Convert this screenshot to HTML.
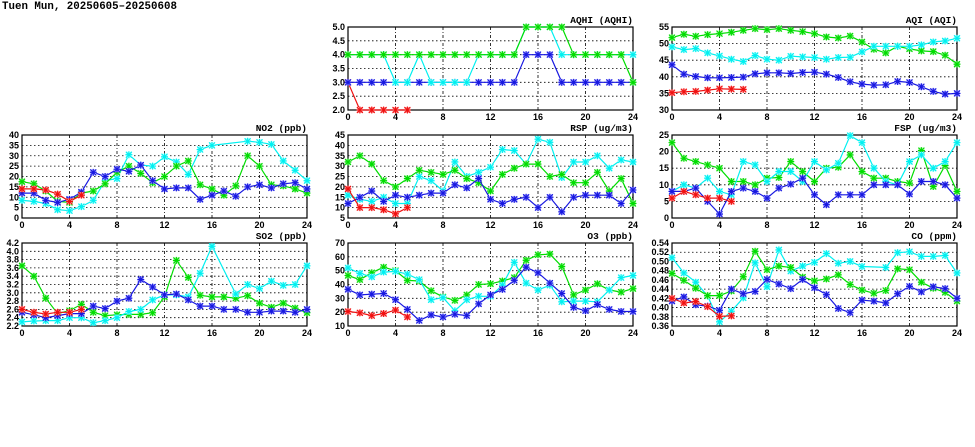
<!DOCTYPE html>
<html><head><meta charset="utf-8"><style>
html,body{margin:0;padding:0;background:#fff;width:975px;height:447px;overflow:hidden}
svg{display:block}
text{font-family:"Liberation Sans",sans-serif;font-weight:bold;font-size:9px;fill:#000}
.ttl{font-family:"Liberation Mono",monospace;font-size:9.5px}
</style></head><body>
<svg id="chart" width="975" height="447" xmlns="http://www.w3.org/2000/svg">
<text class="ttl" x="2" y="9" style="font-weight:600;font-size:10.8px">Tuen Mun, 20250605&#8211;20250608</text>
</svg>
<script>
const hours = [0,1,2,3,4,5,6,7,8,9,10,11,12,13,14,15,16,17,18,19,20,21,22,23,24];
const xTicks = [0,4,8,12,16,20,24];
const N = null;

const aqhiRed = [3,2,2,2,2,2];
const aqhiBlue = [3,3,3,3,3,3,3,3,3,3,3,3,3,3,3,4,4,4,3,3,3,3,3,3,3];
const aqhiCyan = [4,4,4,4,3,3,4,3,3,3,3,4,4,4,4,5,5,5,4,4,4,4,4,4,4];
const aqhiGreen = [4,4,4,4,4,4,4,4,4,4,4,4,4,4,4,5,5,5,5,4,4,4,4,4,3];
const aqhiTicks = [2.0,2.5,3.0,3.5,4.0,4.5,5.0];

const aqiGreen = [51.8,52.8,52.2,52.7,53,53.4,54,54.5,54.2,54.5,54,53.6,53,52,51.7,52.3,50.5,48.3,47.2,49.2,48.4,47.8,47.6,46.5,43.8];
const aqiCyan = [49,48.2,48.5,47.2,46.3,45.3,44.6,46.4,45.3,45,46.2,46,45.8,45.3,45.8,45.9,47.5,49.2,49.2,49.2,49.2,49.6,50.5,50.8,51.6];
const aqiBlue = [43.6,40.8,40.1,39.7,39.7,39.8,39.9,40.9,41.2,41.2,41,41.3,41.4,40.8,39.8,38.5,37.8,37.5,37.6,38.6,38.3,37,35.6,34.8,35];
const aqiRed = [35.2,35.5,35.6,36,36.4,36.3,36.2];
const aqiTicks = [30,35,40,45,50,55];

const no2Cyan = [8.5,8,7,4,3.5,5.5,8.5,18,19,30.5,25.5,25,29.5,27,21,33,35,N,N,37,36.5,35.5,27.5,23,18];
const no2Green = [17.5,16.5,13,8,7.5,12,13,16.5,22,25,21.5,17,20,25,27.5,16,14,11,15.5,30,25,16,15.5,14,12];
const no2Blue = [12,12,8.5,7.5,9,12.5,22,20,23.5,22.5,25.5,18,14,14.5,14.5,9,11,13,10.5,15,16,14.5,16.5,17,14];
const no2Red = [14,14,13.5,11.5,8,11];
const no2Ticks = [0,5,10,15,20,25,30,35,40];

const rspCyan = [16,14,13,15,12,12,25,23,18,32,25,27,29.5,38,37.5,31,43,41.5,24.5,32,32,35,29,33,32];
const rspGreen = [32,35,31,23,20,24,28,27,26,28,24,22,18,26,29,31,31,25,26,22,22,27,18,24,12];
const rspBlue = [12,15,18,13,16,15,16,17,17,21,19.5,24,14,12,14,15,10,15,8,15,16,16,16,12,18.5];
const rspRed = [19,10,10,9,7,10];
const rspTicks = [5,10,15,20,25,30,35,40,45];

const fspGreen = [22.7,18,17,16,15,11,11,10,12,12.2,17,14,11,15,15.3,19,14,12,12,11,10.5,20.3,9.5,15.8,8];
const fspCyan = [8,10,9,12,8,7,17,16,11,14,14,11,17,14.5,16.5,24.8,22.7,15,11,10,17,19,15,17,22.7];
const fspBlue = [8,8,9,5,1.2,8,9,8,6,9,10.2,12,7,4,7,7,7,10,10,10,7.2,11,11,10,6];
const fspRed = [6,8,7,6,6,5];
const fspTicks = [0,5,10,15,20,25];

const so2Green = [3.65,3.4,2.87,2.5,2.57,2.72,2.53,2.45,2.47,2.48,2.48,2.52,2.9,3.78,3.37,2.94,2.9,2.9,2.87,2.93,2.75,2.65,2.75,2.63,2.52];
const so2Cyan = [2.3,2.32,2.33,2.33,2.4,2.4,2.28,2.33,2.4,2.55,2.6,2.83,2.95,2.95,2.9,3.47,4.12,N,2.97,3.2,3.1,3.28,3.18,3.2,3.65];
const so2Blue = [2.53,2.47,2.4,2.45,2.5,2.5,2.68,2.62,2.8,2.87,3.32,3.14,2.95,2.97,2.83,2.68,2.68,2.6,2.6,2.53,2.53,2.56,2.56,2.53,2.6];
const so2Red = [2.6,2.53,2.49,2.53,2.53,2.6];
const so2Ticks = [2.2,2.4,2.6,2.8,3.0,3.2,3.4,3.6,3.8,4.0,4.2];

const o3Green = [46.5,43.5,48.5,52.5,50,43,42.5,35.5,31,28.5,32.5,40,40.5,42.5,45,57.5,61.5,62,53,32.5,36,40.5,36,34.5,37];
const o3Cyan = [52,48,45.5,49,49.5,47.5,43.5,29,30.5,21,29,31.5,31.5,39.5,56,41,36,39.5,27.5,28,28,27.5,36,45,46.5];
const o3Blue = [36.5,32.5,33,33.5,29,22,14,18,16.5,18.5,17.5,26,32.5,36.5,43,52.5,48.5,41,33.5,23.5,21,25.5,22,20.5,20.5];
const o3Red = [20.5,19.5,17.5,19,21.5,16.5];
const o3Ticks = [10,20,30,40,50,60,70];

const coCyan = [0.508,0.475,0.455,0.425,0.369,0.392,0.421,0.497,0.445,0.525,0.479,0.490,0.498,0.517,0.496,0.500,0.489,N,0.487,0.519,0.521,0.511,0.511,0.513,0.475];
const coGreen = [0.474,0.459,0.442,0.426,0.426,0.436,0.467,0.522,0.482,0.490,0.487,0.466,0.458,0.462,0.471,0.450,0.438,0.431,0.437,0.484,0.482,0.455,0.442,0.433,0.414];
const coBlue = [0.414,0.423,0.406,0.403,0.394,0.440,0.430,0.435,0.461,0.451,0.441,0.461,0.443,0.428,0.398,0.389,0.416,0.414,0.410,0.430,0.446,0.434,0.445,0.441,0.420];
const coRed = [0.420,0.410,0.413,0.402,0.381,0.382];
const coTicks = [0.36,0.38,0.40,0.42,0.44,0.46,0.48,0.50,0.52,0.54];

const SVGNS = "http://www.w3.org/2000/svg";
const svg = document.getElementById('chart');
const COLX = [22,348,672], ROWY = [27,135,243], W = 285, H = 83;
const COLORS = {green:['#00dd00','#a8f0a8'],cyan:['#00f0f0','#b0ffff'],blue:['#1818e0','#a8a8ff'],red:['#f01010','#ffa8a8']};

function mk(tag, attrs, parent){
  const e = document.createElementNS(SVGNS, tag);
  for (const k in attrs) e.setAttribute(k, attrs[k]);
  (parent||svg).appendChild(e);
  return e;
}

function panel(key, title, col, row, ticks, decimals, series){
  const x0 = COLX[col], y0 = ROWY[row];
  const ymin = ticks[0], ymax = ticks[ticks.length-1];
  const xs = h => x0 + h/24*W;
  const ys = v => y0 + H - (v-ymin)/(ymax-ymin)*H;
  const g = mk('g', {});
  
  
  ticks.forEach((t,i)=>{
    const y = ys(t);
    if (i>0 && i<ticks.length-1){
      const gl = mk('line',{x1:x0,x2:x0+W,y1:y,y2:y,stroke:'#000','stroke-width':0.8,'stroke-dasharray':'1.5,2.5'},g);
      
      
    }
    const tl = mk('text',{x:x0-3,y:y+3,'text-anchor':'end'},g);
    tl.textContent = t.toFixed(decimals);
    
    
  });
  xTicks.forEach((t,i)=>{
    const x = xs(t);
    if (i>0 && i<xTicks.length-1){
      const gl = mk('line',{x1:x,x2:x,y1:y0,y2:y0+H,stroke:'#000','stroke-width':0.8,'stroke-dasharray':'3,2,1,2'},g);
      
      
    }
    const tl = mk('text',{x:x,y:y0+H+10,'text-anchor':'middle'},g);
    tl.textContent = t;
    
    
  });
  const fr = mk('rect',{x:x0,y:y0,width:W,height:H,fill:'none',stroke:'#000','stroke-width':1.2},g);
  
  
  const tt = mk('text',{x:x0+W,y:y0-4,'text-anchor':'end','class':'ttl'},g);
  tt.textContent = title;
  
  
  const cp = 'clip-'+key;
  const cl = mk('clipPath',{id:cp},g);
  mk('rect',{x:x0-4,y:y0-4,width:W+8,height:H+8},cl);
  series.forEach(([cname, vals])=>{
    const [c, lc] = COLORS[cname];
    const sg = mk('g',{'clip-path':'url(#'+cp+')'},g);
    
    
    const pts = [];
    vals.forEach((v,i)=>{ if (v!==null) pts.push([xs(hours[i]), ys(v)]); });
    const pl = mk('polyline',{points:pts.map(p=>p[0].toFixed(1)+','+p[1].toFixed(1)).join(' '),fill:'none',stroke:c,'stroke-width':1.2},sg);
    
    
    pts.forEach(([x,y])=>{
      const m = mk('g',{},sg);
      
      
      mk('rect',{x:x-3,y:y-3,width:6,height:6,fill:lc},m);
      mk('path',{d:`M${x-3},${y-3}L${x+3},${y+3}M${x-3},${y+3}L${x+3},${y-3}M${x-3.5},${y}L${x+3.5},${y}M${x},${y-3.5}L${x},${y+3.5}`,stroke:c,'stroke-width':1.1},m);
    });
  });
}

panel('aqhi','AQHI (AQHI)',1,0,aqhiTicks,1,[['red',aqhiRed],['blue',aqhiBlue],['cyan',aqhiCyan],['green',aqhiGreen]]);
panel('aqi','AQI (AQI)',2,0,aqiTicks,0,[['green',aqiGreen],['cyan',aqiCyan],['blue',aqiBlue],['red',aqiRed]]);
panel('no2','NO2 (ppb)',0,1,no2Ticks,0,[['cyan',no2Cyan],['green',no2Green],['blue',no2Blue],['red',no2Red]]);
panel('rsp','RSP (ug/m3)',1,1,rspTicks,0,[['cyan',rspCyan],['green',rspGreen],['blue',rspBlue],['red',rspRed]]);
panel('fsp','FSP (ug/m3)',2,1,fspTicks,0,[['green',fspGreen],['cyan',fspCyan],['blue',fspBlue],['red',fspRed]]);
panel('so2','SO2 (ppb)',0,2,so2Ticks,1,[['green',so2Green],['cyan',so2Cyan],['blue',so2Blue],['red',so2Red]]);
panel('o3','O3 (ppb)',1,2,o3Ticks,0,[['green',o3Green],['cyan',o3Cyan],['blue',o3Blue],['red',o3Red]]);
panel('co','CO (ppm)',2,2,coTicks,2,[['cyan',coCyan],['green',coGreen],['blue',coBlue],['red',coRed]]);
</script>
</body></html>
